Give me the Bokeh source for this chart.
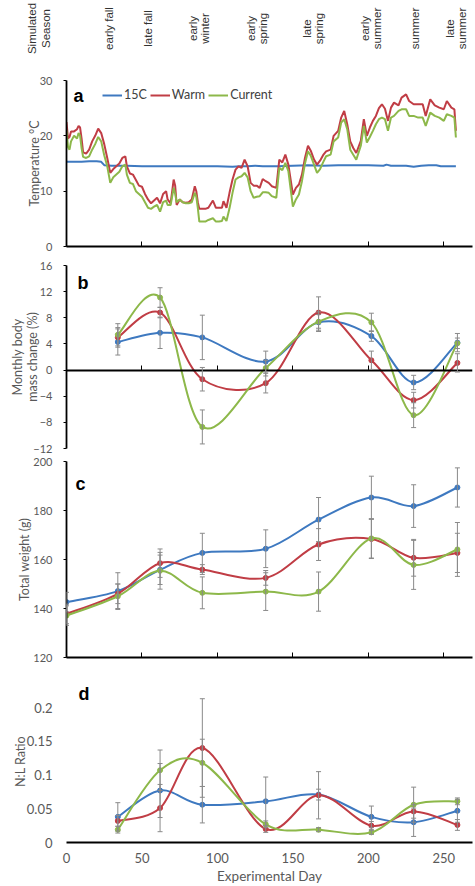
import numpy as np
from bokeh.plotting import figure
from bokeh.layouts import column
from bokeh.models import (ColumnDataSource, Whisker, TeeHead, Label, Legend, LegendItem,
                          FixedTicker, Range1d, CustomJSTickFormatter)
from bokeh.embed import file_html
from bokeh.resources import INLINE
from bokeh.core.properties import value

# ---------------- data ----------------
seasons = ["early fall", "late fall", "early\nwinter", "early\nspring",
           "late\nspring", "early\nsummer", "summer", "late\nsummer"]
season_day = [28, 54, 88, 126, 163, 202, 231, 258]
season_title = "\nSimulated\nSeason"

temp_day = [0, 1, 2, 3, 5, 7, 8, 9, 10, 11, 13, 15, 17, 19, 21, 23, 25, 27, 29, 31, 33, 35, 37, 39,
            40, 42, 44, 46, 48, 50, 52, 54, 56, 58, 60, 62, 64, 66, 67, 69, 71, 72, 73, 75, 77, 79,
            81, 83, 85, 86, 87, 88, 90, 92, 94, 97, 99, 101, 103, 104, 106, 108, 110, 112, 114, 116,
            118, 120, 122, 124, 126, 128, 130, 132, 134, 136, 139, 141, 143, 145, 147, 150, 152, 154,
            156, 158, 160, 162, 164, 166, 168, 170, 172, 175, 177, 180, 182, 184, 186, 188, 190, 192,
            195, 197, 199, 201, 203, 205, 207, 209, 211, 213, 215, 217, 220, 222, 225, 227, 230, 233,
            236, 238, 241, 244, 247, 250, 252, 255, 257, 258]
temp_warm = [22.5, 19.5, 19.8, 20.8, 20.8, 21.2, 21.8, 21.5, 19.5, 17.0, 16.8, 17.5, 19.0, 20.0, 21.3,
             20.5, 18.5, 16.0, 13.3, 14.0, 14.5, 15.0, 16.0, 16.3, 14.5, 13.2, 13.0, 12.0, 11.0, 10.8,
             9.5, 8.5, 7.8, 8.3, 8.8, 7.8, 9.5, 10.0, 8.5, 7.8, 12.1, 11.0, 7.5, 8.5, 8.0, 7.9, 8.0,
             8.5, 10.9, 10.0, 8.0, 6.8, 6.8, 6.8, 7.0, 8.3, 7.0, 7.0, 7.0, 8.2, 7.0, 9.7, 12.1, 13.9,
             14.5, 14.2, 15.7, 14.5, 11.5, 11.0, 11.0, 10.6, 12.2, 11.8, 11.5, 10.9, 10.6, 15.7, 15.2,
             16.6, 14.8, 9.4, 10.6, 11.2, 13.0, 16.0, 18.2, 17.2, 15.7, 14.8, 15.5, 16.5, 17.2, 17.5,
             20.0, 20.9, 23.3, 24.5, 22.1, 19.0, 17.8, 16.9, 19.1, 23.0, 20.0, 21.5, 22.7, 23.6, 25.0,
             25.7, 24.9, 22.7, 25.1, 26.0, 25.5, 26.9, 27.5, 26.3, 25.7, 25.7, 25.7, 23.6, 26.6, 25.5,
             25.1, 24.8, 26.3, 25.1, 24.8, 20.9]
temp_current = [21.0, 18.0, 17.5, 19.0, 20.0, 19.5, 20.5, 20.0, 17.8, 16.2, 16.0, 16.3, 17.5, 18.5,
                19.8, 19.0, 16.5, 14.5, 11.5, 12.5, 13.0, 13.5, 14.5, 14.8, 13.0, 11.5, 11.3, 10.0,
                9.5, 9.0, 8.0, 7.0, 6.8, 7.2, 7.5, 6.3, 8.0, 8.3, 7.5, 7.5, 10.6, 9.5, 8.0, 8.5, 8.0,
                7.8, 7.8, 8.0, 9.7, 9.0, 7.0, 4.5, 4.5, 4.5, 4.8, 5.1, 4.5, 4.5, 4.6, 5.4, 4.6, 6.9,
                9.7, 12.1, 12.5, 12.7, 13.3, 12.5, 10.0, 8.8, 9.0, 9.1, 9.8, 9.8, 9.7, 9.1, 8.8, 14.2,
                13.8, 15.1, 13.6, 7.2, 8.5, 9.4, 11.8, 15.0, 17.2, 16.3, 14.8, 13.3, 14.0, 15.2, 16.3,
                16.6, 19.0, 19.7, 22.4, 23.0, 21.2, 17.5, 16.6, 15.7, 18.2, 21.8, 18.8, 19.8, 20.9,
                22.1, 23.0, 23.3, 23.0, 20.9, 23.3, 23.6, 24.5, 24.8, 24.8, 23.6, 23.6, 23.3, 23.3,
                21.8, 24.2, 23.6, 23.3, 22.7, 23.9, 23.6, 23.3, 19.7]
temp15_day = [0, 5, 10, 15, 20, 23, 25, 30, 40, 50, 60, 70, 80, 90, 100, 110, 115, 120, 125, 130,
              140, 150, 160, 170, 180, 190, 200, 210, 212, 215, 225, 230, 235, 240, 245, 248, 258]
temp_15c = [15.3, 15.3, 15.3, 15.4, 15.4, 15.3, 14.7, 14.6, 14.6, 14.5, 14.5, 14.5, 14.5, 14.5,
            14.5, 14.4, 14.5, 14.5, 14.6, 14.5, 14.5, 14.6, 14.7, 14.6, 14.7, 14.7, 14.7, 14.6,
            14.8, 14.6, 14.6, 14.4, 14.6, 14.7, 14.7, 14.5, 14.5]

sample_day = [34, 62, 90, 132, 167, 202, 230, 259]
mass_15c = [4.3, 5.7, 5.0, 1.3, 7.3, 5.2, -1.9, 4.2]
mass_15c_err = [2.0, 2.4, 3.4, 1.6, 1.2, 0.8, 1.1, 1.4]
mass_warm = [5.0, 8.8, -1.4, -2.0, 8.8, 1.5, -4.6, 1.1]
mass_warm_err = [1.5, 0.8, 1.8, 1.5, 2.4, 1.4, 1.2, 1.4]
mass_curr = [5.4, 11.1, -8.7, 0.3, 7.4, 7.3, -6.9, 4.1]
mass_curr_err = [1.7, 1.5, 2.6, 1.2, 1.5, 1.4, 1.9, 0.8]

weight_day = [0, 34, 62, 90, 132, 167, 202, 230, 259]
weight_15c = [142.6, 147.1, 155.8, 162.7, 164.4, 176.3, 185.3, 181.8, 189.4]
weight_15c_err = [4, 7.5, 6, 8, 7.7, 9, 8.7, 8.7, 8]
weight_warm = [137.8, 146.0, 158.5, 155.9, 152.5, 166.1, 168.4, 160.7, 162.7]
weight_warm_err = [4, 4, 5.8, 2, 3, 6.5, 8, 7.5, 8]
weight_curr = [137.1, 145.0, 155.4, 146.4, 146.9, 146.9, 168.6, 157.8, 164.1]
weight_curr_err = [4, 5, 7.5, 6.5, 7.7, 8, 8, 10, 11]

nl_15c = [0.038, 0.077, 0.056, 0.061, 0.071, 0.038, 0.030, 0.047]
nl_15c_err = [0.021, 0.04, 0.027, 0.036, 0.008, 0.016, 0.021, 0.017]
nl_warm = [0.032, 0.051, 0.140, 0.020, 0.070, 0.025, 0.046, 0.026]
nl_warm_err = [0.008, 0.035, 0.073, 0.005, 0.035, 0.006, 0.01, 0.008]
nl_curr = [0.019, 0.107, 0.118, 0.027, 0.019, 0.015, 0.056, 0.061]
nl_curr_err = [0.005, 0.03, 0.035, 0.005, 0.003, 0.003, 0.026, 0.005]

x_ticks = [0, 50, 100, 150, 200, 250]

# ---------------- style ----------------
C15, CWARM, CCUR = "#3E79C0", "#C03D45", "#8DB84A"
GRAY = "#8a8a8a"
TXT = "#595959"
FONT = "Lato"
W = 475
LEFT, RIGHT = 66, 3
xr = Range1d(0, 269)


def smooth_segments(xs, ys):
    x = np.asarray(xs, float)
    y = np.asarray(ys, float)
    xp = np.concatenate([[x[0]], x, [x[-1]]])
    yp = np.concatenate([[y[0]], y, [y[-1]]])
    i = np.arange(len(x) - 1)
    return dict(x0=x[:-1], y0=y[:-1], x1=x[1:], y1=y[1:],
                cx0=x[i] + (xp[i + 2] - xp[i]) / 6, cy0=y[i] + (yp[i + 2] - yp[i]) / 6,
                cx1=x[i + 1] - (xp[i + 3] - xp[i + 1]) / 6, cy1=y[i + 1] - (yp[i + 3] - yp[i + 1]) / 6)


def base_fig(h, top, bottom, yr, yticks, title, title_standoff, tick_size="11px"):
    p = figure(width=W, height=h, x_range=xr, y_range=Range1d(*yr), output_backend="svg",
               toolbar_location=None, min_border_left=LEFT, min_border_right=RIGHT,
               min_border_top=top, min_border_bottom=bottom)
    p.outline_line_color = None
    p.grid.visible = False
    for ax in (p.xaxis, p.yaxis):
        ax.axis_line_color = "black"
        ax.axis_line_width = 1.8
        ax.major_tick_line_color = "black"
        ax.minor_tick_line_color = None
        ax.major_label_text_font = FONT
        ax.major_label_text_font_size = tick_size
        ax.major_label_text_color = TXT
    p.yaxis.ticker = FixedTicker(ticks=yticks)
    p.yaxis.major_tick_in = 0
    p.yaxis.major_tick_out = 3
    p.yaxis.major_label_standoff = 11
    p.yaxis.axis_label = title
    p.yaxis.axis_label_standoff = title_standoff
    p.yaxis.axis_label_text_font = FONT
    p.yaxis.axis_label_text_font_style = "normal"
    p.yaxis.axis_label_text_font_size = "12.5px"
    p.yaxis.axis_label_text_color = TXT
    p.xaxis.ticker = FixedTicker(ticks=x_ticks)
    p.xaxis.major_tick_in = 5
    p.xaxis.major_tick_out = 0
    p.xaxis.major_label_text_font_size = "0px"
    p.xaxis.formatter = CustomJSTickFormatter(code="return ''")
    p.xaxis.major_label_standoff = 0
    return p


def letter(p, text, x, y):
    p.add_layout(Label(x=x, y=y, x_units="screen", y_units="screen", text=text,
                       text_font="Liberation Sans", text_font_style="bold",
                       text_font_size="18px", text_color="black", text_baseline="alphabetic"))


def series(p, xs, ys, errs, color):
    p.bezier(source=ColumnDataSource(smooth_segments(xs, ys)), x0="x0", y0="y0", x1="x1", y1="y1",
             cx0="cx0", cy0="cy0", cx1="cx1", cy1="cy1", line_color=color, line_width=2)
    p.scatter(xs, ys, size=5, color=color)
    up = [v + e for v, e in zip(ys, errs)]
    lo = [v - e for v, e in zip(ys, errs)]
    src = ColumnDataSource(dict(x=xs, upper=up, lower=lo))
    p.add_layout(Whisker(base="x", upper="upper", lower="lower", source=src, level="overlay",
                         line_color=GRAY, line_width=1,
                         upper_head=TeeHead(size=5, line_color=GRAY, line_width=1),
                         lower_head=TeeHead(size=5, line_color=GRAY, line_width=1)))


# ---------------- season header ----------------
ps = figure(width=W, height=75, x_range=xr, y_range=Range1d(0, 56),
            output_backend="svg", toolbar_location=None, min_border_left=LEFT,
            min_border_right=RIGHT, min_border_top=0, min_border_bottom=19,
            x_axis_location=None)
ps.outline_line_color = None
ps.grid.visible = False
ps.yaxis.ticker = FixedTicker(ticks=[])
ps.yaxis.axis_line_color = None
ps.yaxis.major_tick_line_color = None
ps.yaxis.minor_tick_line_color = None
ps.yaxis.major_label_standoff = 0
ps.yaxis.axis_label = season_title
ps.yaxis.axis_label_standoff = 15
ps.yaxis.axis_label_text_font = "Liberation Sans"
ps.yaxis.axis_label_text_font_style = "normal"
ps.yaxis.axis_label_text_font_size = "11.5px"
ps.yaxis.axis_label_text_color = "#333333"
ps.yaxis.axis_label_text_line_height = 1.13
ps.text(x=season_day, y=[28] * len(seasons), text=seasons, angle=np.pi / 2, text_align="center",
        text_baseline="middle", text_font=value("Liberation Sans"), text_font_size="11.5px",
        text_color="#333333", text_line_height=1.0)

# ---------------- panel a ----------------
pa = base_fig(181, 5, 10, (0, 30), [0, 10, 20, 30], "Temperature °C", -5)
r15 = pa.line(temp15_day, temp_15c, line_color=C15, line_width=2)
rw = pa.line(temp_day, temp_warm, line_color=CWARM, line_width=2)
rc = pa.line(temp_day, temp_current, line_color=CCUR, line_width=2)
leg = Legend(items=[LegendItem(label="15C", renderers=[r15]), LegendItem(label="Warm", renderers=[rw]),
                    LegendItem(label="Current", renderers=[rc])],
             orientation="horizontal", location=(36, 144), glyph_width=20, glyph_height=12,
             label_standoff=2, spacing=3, padding=0, margin=0, border_line_color=None,
             background_fill_alpha=0, label_text_font=FONT, label_text_font_size="12.5px",
             label_text_color="#404040", label_height=14)
pa.add_layout(leg, "center")
letter(pa, "a", 7, 151)

# ---------------- panel b ----------------
pb = base_fig(199, 9, 7, (-12, 16), [-12, -8, -4, 0, 4, 8, 12, 16], "Monthly body\nmass change (%)", -10)
pb.yaxis.axis_label_text_line_height = 1.05
pb.xaxis.fixed_location = 0
series(pb, sample_day, mass_15c, mass_15c_err, C15)
series(pb, sample_day, mass_warm, mass_warm_err, CWARM)
series(pb, sample_day, mass_curr, mass_curr_err, CCUR)
letter(pb, "b", 11, 166)

# ---------------- panel c ----------------
pc = base_fig(210, 6, 8, (120, 200), [120, 140, 160, 180, 200], "Total weight (g)", -2)
series(pc, weight_day, weight_15c, weight_15c_err, C15)
series(pc, weight_day, weight_warm, weight_warm_err, CWARM)
series(pc, weight_day, weight_curr, weight_curr_err, CCUR)
letter(pc, "c", 9, 174)

# ---------------- panel d ----------------
pd_ = base_fig(221, 15, 44, (0, 0.24), [0, 0.05, 0.1, 0.15, 0.2], "N:L Ratio", -4, tick_size="13px")
pd_.yaxis.axis_line_color = None
pd_.yaxis.major_tick_out = 0
pd_.yaxis.major_label_standoff = 14
pd_.yaxis.formatter = CustomJSTickFormatter(code="return String(Math.round(tick*100)/100)")
pd_.xaxis.formatter = CustomJSTickFormatter(code="return String(tick)")
pd_.xaxis.major_tick_in = 0
pd_.xaxis.major_label_text_font_size = "13px"
pd_.xaxis.major_label_standoff = 10
pd_.xaxis.axis_label = "Experimental Day"
pd_.xaxis.axis_label_standoff = 2
pd_.xaxis.axis_label_text_font = FONT
pd_.xaxis.axis_label_text_font_style = "normal"
pd_.xaxis.axis_label_text_font_size = "13.5px"
pd_.xaxis.axis_label_text_color = TXT
series(pd_, sample_day, nl_15c, nl_15c_err, C15)
series(pd_, sample_day, nl_warm, nl_warm_err, CWARM)
series(pd_, sample_day, nl_curr, nl_curr_err, CCUR)
letter(pd_, "d", 12, 149)

layout = column(ps, pa, pb, pc, pd_, spacing=0)
open("out.html", "w").write(file_html(layout, INLINE))
